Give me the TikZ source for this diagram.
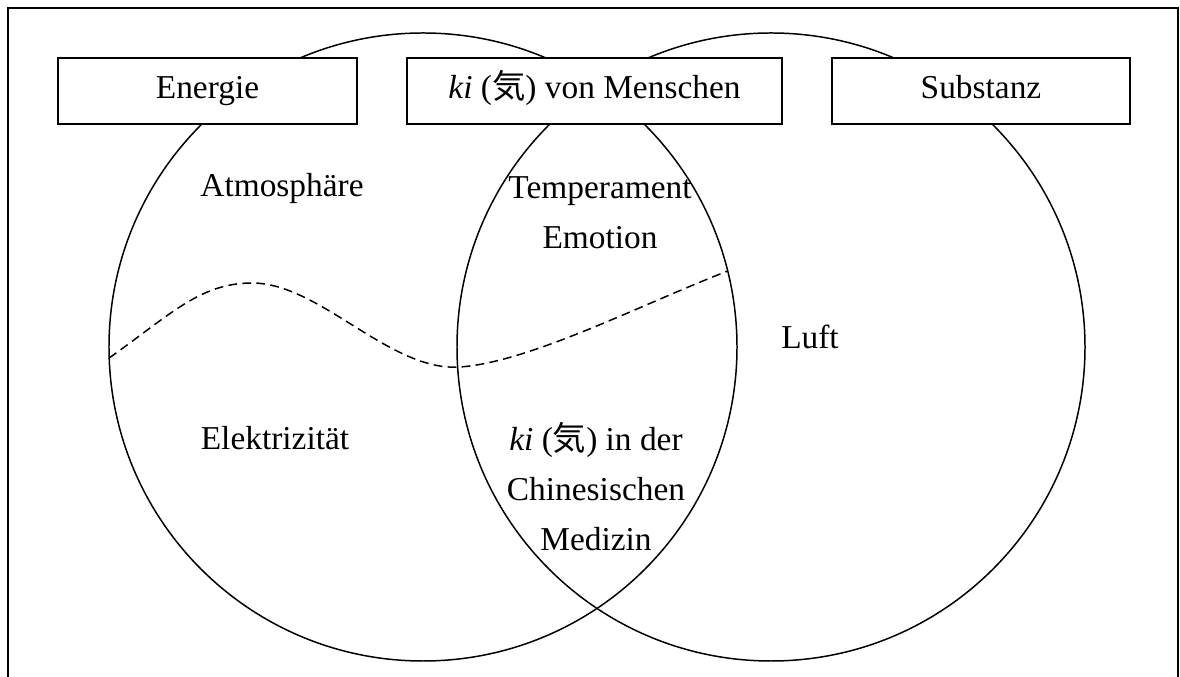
\documentclass[tikz,border=0pt]{standalone}
\usepackage{fontspec}
\setmainfont{Liberation Serif}
\newfontfamily\cjk{Noto Sans CJK JP}
\usetikzlibrary{positioning}
\newcommand{\schrift}{\fontsize{19}{28.5}\selectfont}
\newcommand{\kiwort}{\textit{ki} ({\cjk 気})}
\tikzset{
  kasten/.style={rectangle, draw, fill=white, line width=1pt,
    minimum height=13.2mm, inner sep=0pt, font=\schrift,
    text height=13pt, text depth=4.5pt},
  kreis/.style={circle, draw, line width=0.85pt, minimum size=125.6mm,
    inner sep=0pt, outer sep=0pt},
  beschriftung/.style={font=\schrift, align=center, inner sep=0pt},
  trennlinie/.style={dash pattern=on 5pt off 3pt, line width=0.85pt},
  rahmen/.style={line width=1pt}
}

\begin{document}
\begin{tikzpicture}[x=0.2mm, y=-0.2mm]
    \useasboundingbox (0,0) rectangle (1180,677);
    \draw[rahmen] (8,677) -- (8,8) -- (1178,8) -- (1178,677);

    \node[kreis] (links) at (423,347) {};
    \node[kreis] (rechts) at (771,347) {};

    \node[kasten, minimum width=59.8mm] (energie) at (207.5,91) {Energie};
    \node[kasten, minimum width=75mm] (kimensch) at (594.5,91) {\kiwort{} von Menschen};
    \node[kasten, minimum width=59.6mm] (substanz) at (981,91) {Substanz};

    \draw[trennlinie] (links.182) .. controls (170,315) and (200,283) .. (252,283)
        .. controls (320,283) and (390,372) .. (460,367)
        .. controls (530,362) and (640,305) .. (links.14);

    \node[beschriftung] (atmosphaere) at (282,188) {Atmosphäre};
    \node[beschriftung] (temperament) at (600,213) {Temperament\\Emotion};
    \node[beschriftung] (luft) at (810,337) {Luft};
    \node[beschriftung] (elektrizitaet) at (275,438) {Elektrizität};
    \node[beschriftung] (medizin) at (596,487) {\kiwort{} in der\\Chinesischen\\Medizin};
\end{tikzpicture}
\end{document}
